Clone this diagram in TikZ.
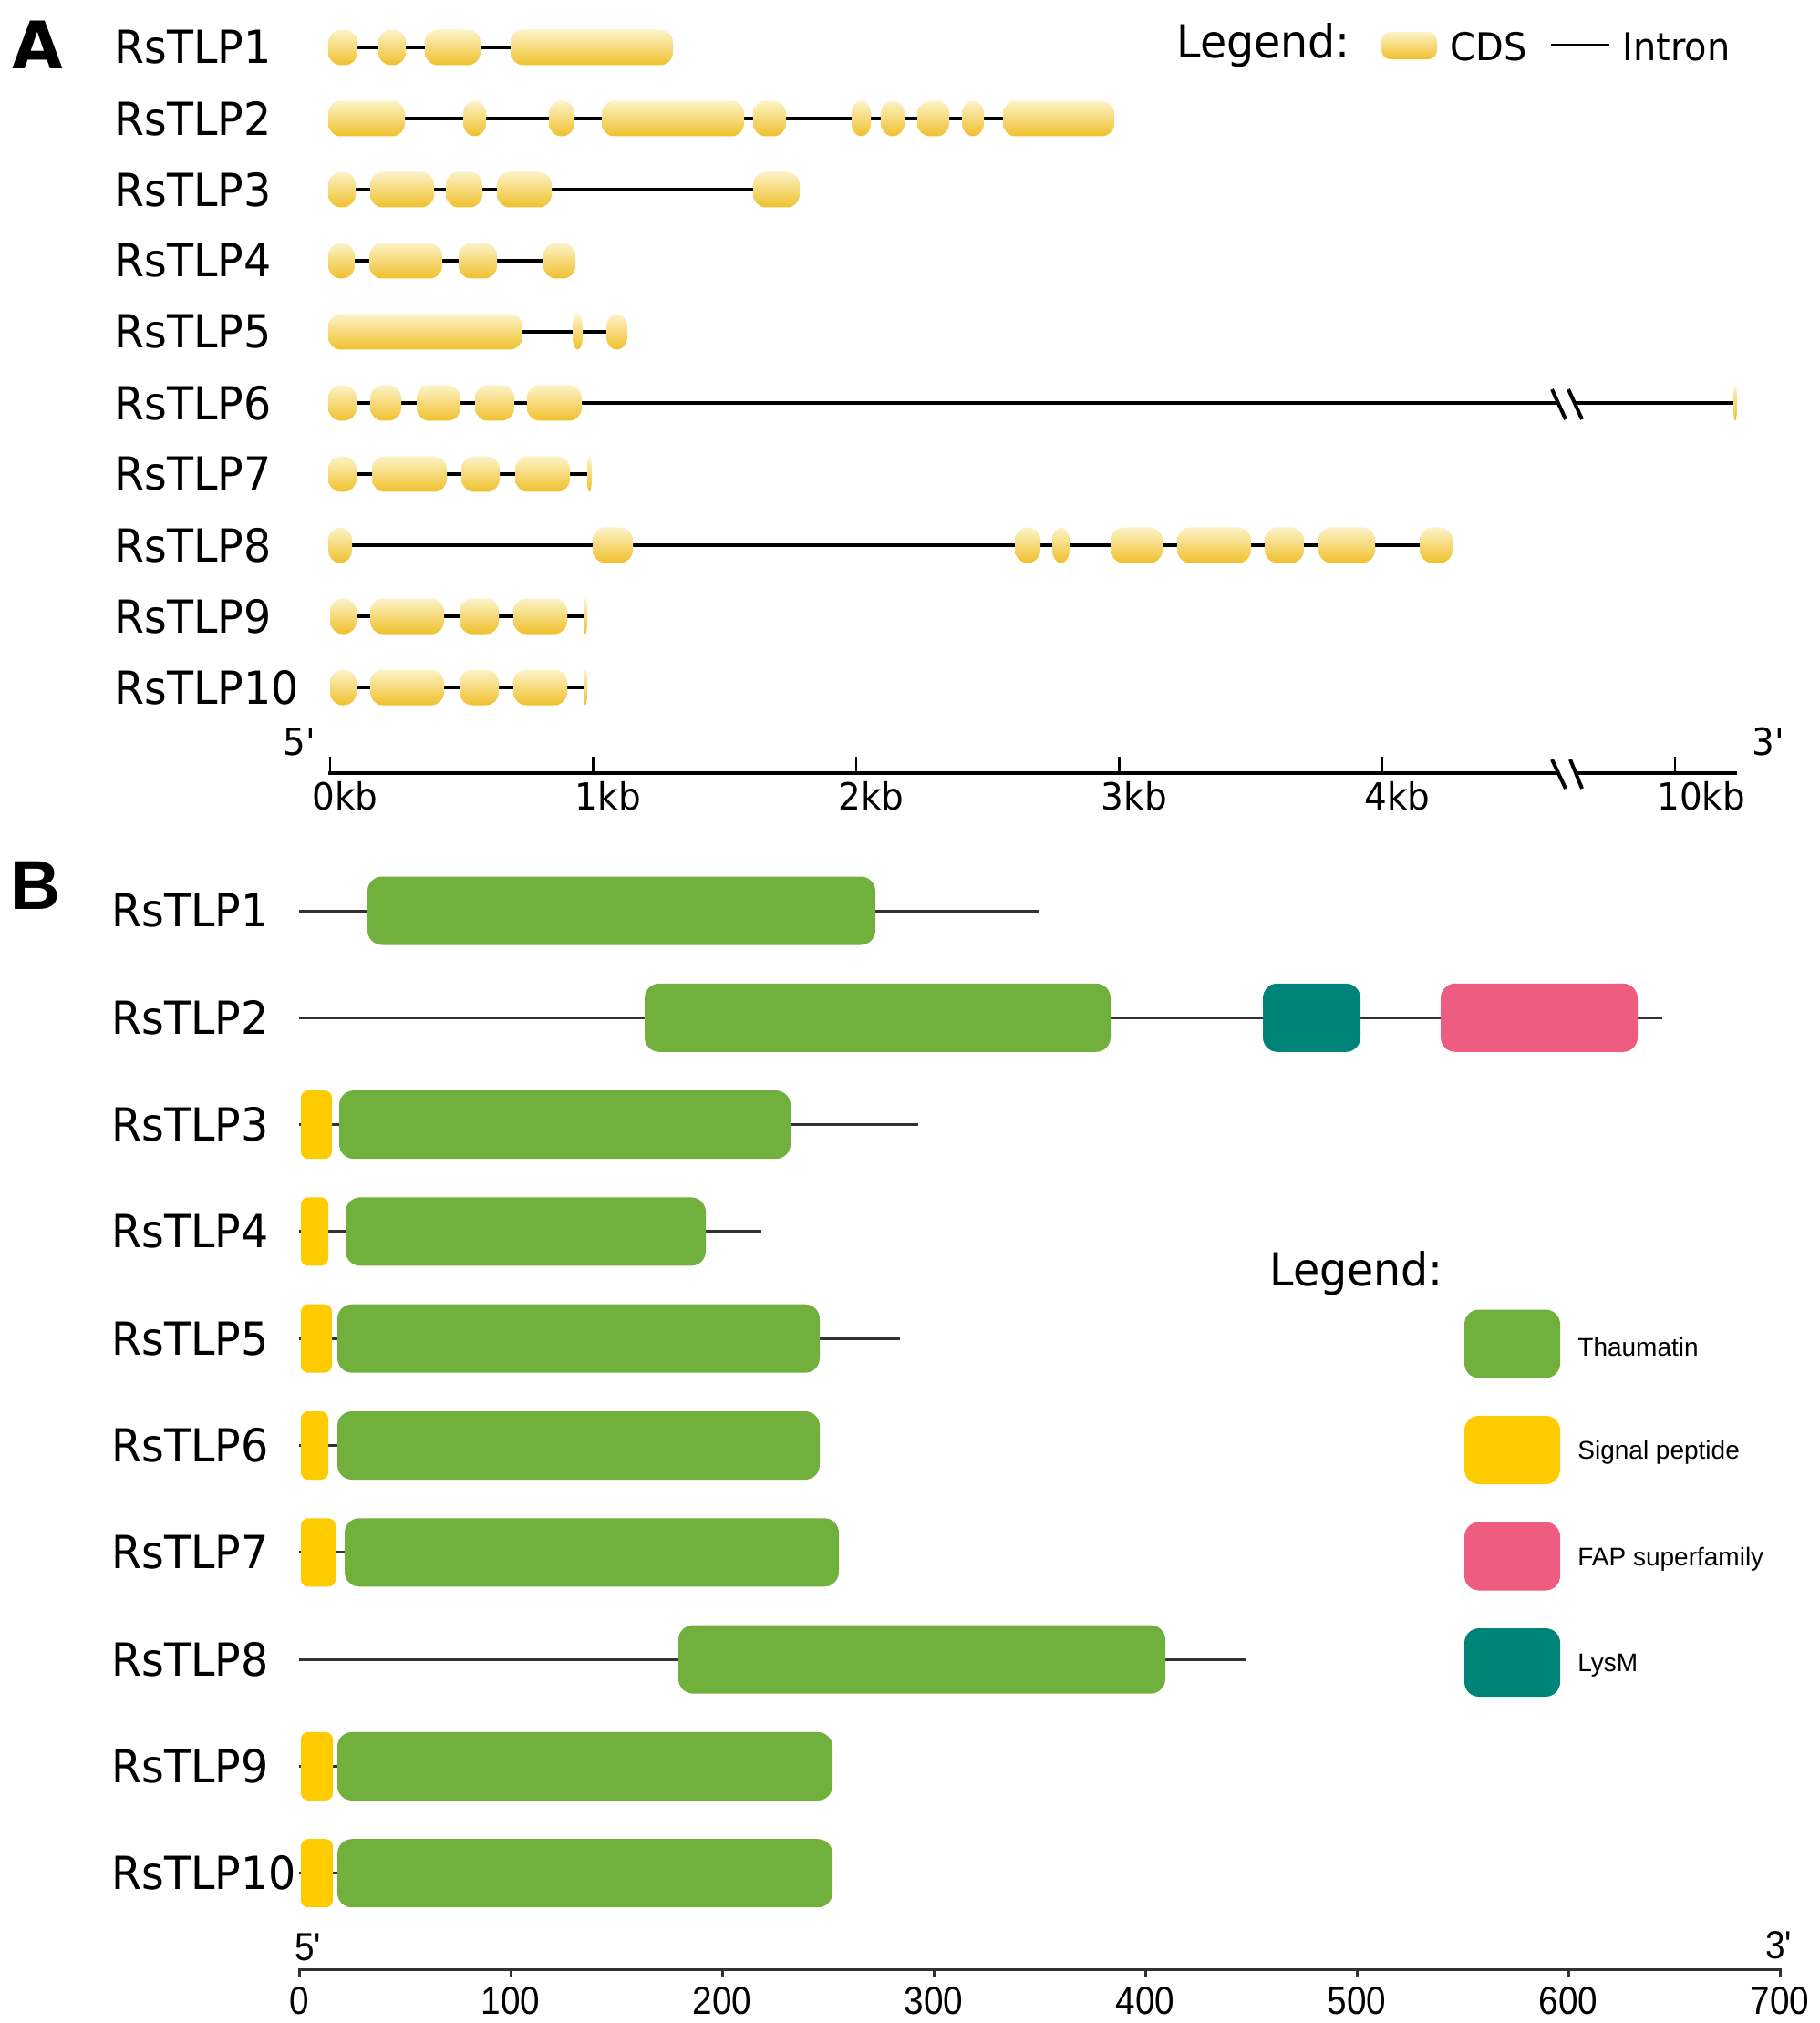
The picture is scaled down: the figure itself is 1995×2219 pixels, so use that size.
\documentclass[tikz,border=0pt]{standalone}
\usepackage{fontspec}
\setmainfont{DejaVu Sans}
\newfontfamily\tah{DejaVu Sans}[FakeStretch=0.95]
\newfontfamily\arn{Liberation Sans}[FakeStretch=0.9]
\newfontfamily\ar{Liberation Sans}
\newfontfamily\dvb{DejaVu Sans Bold}
\definecolor{exonTop}{RGB}{252,243,200}
\definecolor{exonBot}{RGB}{240,192,44}
\definecolor{thau}{RGB}{114,176,61}
\definecolor{sig}{RGB}{253,203,0}
\definecolor{fap}{RGB}{238,92,128}
\definecolor{lysm}{RGB}{0,131,121}
\definecolor{bbgray}{RGB}{50,50,50}
\tikzset{
  exonshade/.style={top color=exonTop, bottom color=exonBot, draw=none},
  intron/.style={line width=2pt, black},
  axisA/.style={line width=2pt, black},
  tickA/.style={line width=1.3pt, black},
  gname/.style={anchor=west, inner sep=0pt, font=\tah\fontsize{25}{29}\selectfont},
  kb/.style={anchor=base west, inner sep=0pt, font=\tah\fontsize{20.5}{25}\selectfont},
  legtitle/.style={anchor=base west, inner sep=0pt, font=\tah\fontsize{25}{29}\selectfont},
  legA/.style={anchor=west, inner sep=0pt, font=\tah\fontsize{21}{24}\selectfont},
  legB/.style={anchor=west, inner sep=0pt, font=\ar\fontsize{14}{16}\selectfont},
  panel/.style={anchor=base west, inner sep=0pt},
  backbone/.style={line width=1.5pt, bbgray},
  axisB/.style={line width=1.5pt, bbgray},
  numB/.style={anchor=north, inner sep=0pt, font=\arn\fontsize{21.5}{24}\selectfont},
  primeB/.style={anchor=base west, inner sep=0pt, font=\arn\fontsize{21.5}{24}\selectfont},
  dombox/.style={rounded corners=8pt},
  sigbox/.style={rounded corners=4pt, fill=sig},
}
% exon: x1, x2, y  (height 39px, corner radius 14px)
\newcommand\gexon[3]{%
  \pgfmathsetmacro\exRX{min(7,(#2-#1)/4)}%
  \pgfmathsetmacro\exW{(#2-#1)/2-2*\exRX}%
  \shade[exonshade] (#1,#3) -- ++(0pt,2.75pt)
    arc[start angle=180,end angle=90,x radius=\exRX pt,y radius=7pt]
    -- ++(\exW pt,0pt)
    arc[start angle=90,end angle=0,x radius=\exRX pt,y radius=7pt]
    -- ++(0pt,-5.5pt)
    arc[start angle=0,end angle=-90,x radius=\exRX pt,y radius=7pt]
    -- ++(-\exW pt,0pt)
    arc[start angle=-90,end angle=-180,x radius=\exRX pt,y radius=7pt]
    -- cycle;}
\begin{document}
\begin{tikzpicture}[x=0.5pt,y=-0.5pt]
\fill[white] (0,0) rectangle (1995,2219);
\path[use as bounding box] (0,0) rectangle (1995,2219);

% ================= Panel A =================
\node[panel, font=\dvb\fontsize{36}{40}\selectfont] (A) at (13,76) {A};
\node[gname] (a1) at (125,52) {RsTLP1};
\node[gname] (a2) at (125,130) {RsTLP2};
\node[gname] (a3) at (125,208) {RsTLP3};
\node[gname] (a4) at (125,286) {RsTLP4};
\node[gname] (a5) at (125,364) {RsTLP5};
\node[gname] (a6) at (125,442) {RsTLP6};
\node[gname] (a7) at (125,520) {RsTLP7};
\node[gname] (a8) at (125,598) {RsTLP8};
\node[gname] (a9) at (125,676) {RsTLP9};
\node[gname] (a10) at (125,754) {RsTLP10};

% RsTLP1
\draw[intron] (362,52) -- (736,52);
\foreach \a/\b in {360/392,415/445,466/527,560/738}{\gexon{\a}{\b}{52}}
% RsTLP2
\draw[intron] (362,130) -- (1220,130);
\foreach \a/\b in {360/444,508/533,602/630,660/816,826/862,934/955,966/992,1006/1041,1055/1079,1100/1222}{\gexon{\a}{\b}{130}}
% RsTLP3
\draw[intron] (362,208) -- (875,208);
\foreach \a/\b in {360/390,406/476,489/529,545/605,826/877}{\gexon{\a}{\b}{208}}
% RsTLP4
\draw[intron] (362,286) -- (629,286);
\foreach \a/\b in {360/389,405/485,503/545,596/631}{\gexon{\a}{\b}{286}}
% RsTLP5
\draw[intron] (362,364) -- (686,364);
\foreach \a/\b in {360/573,628/639,665/688}{\gexon{\a}{\b}{364}}
% RsTLP6
\draw[intron] (362,442) -- (1709,442);
\draw[intron] (1727,442) -- (1902,442);
\draw[intron] (1702,427) -- (1717,460);
\draw[intron] (1720,427) -- (1735,460);
\foreach \a/\b in {360/391,406/440,457/505,521/564,578/638,1901/1905}{\gexon{\a}{\b}{442}}
% RsTLP7
\draw[intron] (362,520) -- (647,520);
\foreach \a/\b in {360/391,408/490,506/548,565/625,644/649}{\gexon{\a}{\b}{520}}
% RsTLP8
\draw[intron] (362,598) -- (1591,598);
\foreach \a/\b in {360/386,650/694,1113/1141,1154/1173,1218/1275,1291/1372,1387/1430,1446/1508,1557/1593}{\gexon{\a}{\b}{598}}
% RsTLP9
\draw[intron] (364,676) -- (642,676);
\foreach \a/\b in {362/391,406/487,504/547,563/622,640/644}{\gexon{\a}{\b}{676}}
% RsTLP10
\draw[intron] (364,754) -- (642,754);
\foreach \a/\b in {362/391,406/487,504/547,563/622,640/644}{\gexon{\a}{\b}{754}}

% axis A
\draw[axisA] (360,848) -- (1709,848);
\draw[axisA] (1728,848) -- (1905,848);
\draw[axisA] (1702,833) -- (1717,865);
\draw[axisA] (1722,833) -- (1735,865);
\foreach \x in {362,650.5,939,1227.5,1516,1837}{\draw[tickA] (\x,830) -- (\x,848);}
\foreach \x/\t/\n in {362/0kb/k0,650.5/1kb/k1,939/2kb/k2,1227.5/3kb/k3,1516/4kb/k4,1837/10kb/k10}{\node[kb] (\n) at (\x-20,888) {\t};}
\node[kb] (fiveA) at (310,828) {5\textquotesingle};
\node[kb] (threeA) at (1921,828) {3\textquotesingle};

% legend A
\node[legtitle] (legAt) at (1290,64) {Legend:};
\shade[exonshade, rounded corners=5pt] (1515,35) rectangle (1576,65);
\node[legA] (cds) at (1590,51) {CDS};
\draw[line width=1.5pt] (1701,50) -- (1765,50);
\node[legA] (intr) at (1779,51) {Intron};

% ================= Panel B =================
\node[panel, font=\ar\bfseries\fontsize{38}{40}\selectfont] (B) at (11,997) {B};
\node[gname] (b1) at (122,999) {RsTLP1};
\node[gname] (b2) at (122,1116.3) {RsTLP2};
\node[gname] (b3) at (122,1233.6) {RsTLP3};
\node[gname] (b4) at (122,1350.9) {RsTLP4};
\node[gname] (b5) at (122,1468.2) {RsTLP5};
\node[gname] (b6) at (122,1585.5) {RsTLP6};
\node[gname] (b7) at (122,1702.8) {RsTLP7};
\node[gname] (b8) at (122,1820.1) {RsTLP8};
\node[gname] (b9) at (122,1937.4) {RsTLP9};
\node[gname] (b10) at (122,2054.7) {RsTLP10};

% backbones
\foreach \y/\e in {999/1140,1116.3/1823,1233.6/1007,1350.9/835,1468.2/987,1585.5/899,1702.8/920,1820.1/1367,1937.4/913,2054.7/913}{\draw[backbone] (328,\y) -- (\e,\y);}
% thaumatin domains
\foreach \y/\a/\b in {999/403/960,1116.3/707/1218,1233.6/372/867,1350.9/379/774,1468.2/370/899,1585.5/370/899,1702.8/378/920,1820.1/744/1278,1937.4/370/913,2054.7/370/913}{\fill[dombox, thau] (\a,\y-37.5) rectangle (\b,\y+37.5);}
% signal peptides
\foreach \y/\a/\b in {1233.6/330/364,1350.9/330/360,1468.2/330/364,1585.5/330/360,1702.8/330/368,1937.4/330/365,2054.7/330/365}{\fill[sigbox] (\a,\y-37.5) rectangle (\b,\y+37.5);}
% LysM and FAP
\fill[dombox, lysm] (1385,1078.8) rectangle (1492,1153.8);
\fill[dombox, fap] (1580,1078.8) rectangle (1796,1153.8);

% legend B
\node[legtitle] (legBt) at (1392,1410) {Legend:};
\fill[dombox, thau] (1606,1436.5) rectangle (1711,1511.5);
\fill[dombox, sig] (1606,1553) rectangle (1711,1628);
\fill[dombox, fap] (1606,1669.5) rectangle (1711,1744.5);
\fill[dombox, lysm] (1606,1786) rectangle (1711,1861);
\node[legB] (lg1) at (1730,1477) {Thaumatin};
\node[legB] (lg2) at (1730,1593.5) {Signal peptide};
\node[legB] (lg3) at (1730,1710) {FAP superfamily};
\node[legB] (lg4) at (1730,1826.5) {LysM};

% axis B
\draw[axisB] (328,2160) -- (1954,2160);
\foreach \k in {0,...,7}{\draw[axisB] (328+232*\k,2159) -- (328+232*\k,2168);}
\foreach \k/\t in {0/0,1/100,2/200,3/300,4/400,5/500,6/600,7/700}{\node[numB] (n\k) at (328+232*\k,2179) {\t};}
\node[primeB] (fiveB) at (323,2150) {5\textquotesingle};
\node[primeB] (threeB) at (1936,2148) {3\textquotesingle};
\end{tikzpicture}
\end{document}
